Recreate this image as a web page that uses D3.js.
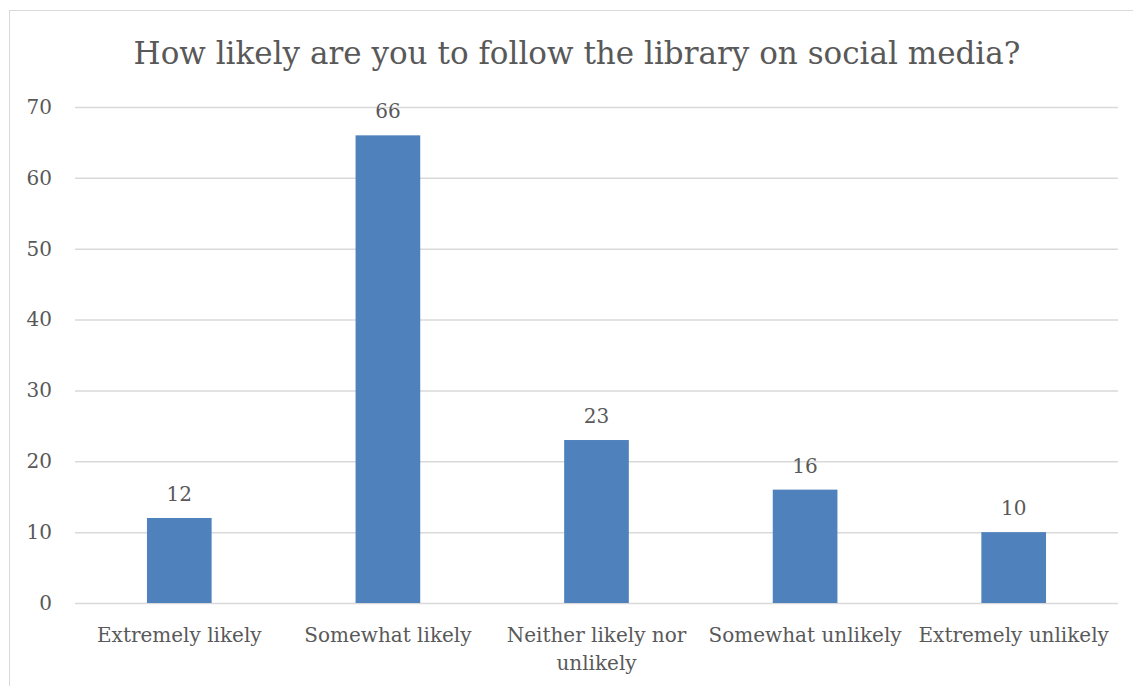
<!DOCTYPE html>
<html>
<head>
<meta charset="utf-8">
<script src="https://cdn.jsdelivr.net/npm/d3@7"></script>
<style>
  body { margin: 0; background: #fff; }
  text { font-family: "DejaVu Serif", serif; fill: #595959; }
</style>
</head>
<body>
<div id="chart"></div>
<script>
// data
var categories = ["Extremely likely", "Somewhat likely", "Neither likely nor unlikely", "Somewhat unlikely", "Extremely unlikely"];
var counts = [12, 66, 23, 16, 10];
var yTicks = [0, 10, 20, 30, 40, 50, 60, 70];
var title = "How likely are you to follow the library on social media?";

var width = 1133, height = 686;
var margin = {left: 75, right: 15, top: 107, bottom: 83};

var svg = d3.select("#chart").append("svg")
    .attr("width", width)
    .attr("height", height);

// chart border
svg.append("rect")
    .attr("x", 9.5).attr("y", 10.5)
    .attr("width", 1140).attr("height", 700)
    .attr("fill", "none")
    .attr("stroke", "#d9d9d9");

var x = d3.scaleBand().domain(categories)
    .range([margin.left, width - margin.right])
    .paddingInner(0.69).paddingOuter(0.345);
var y = d3.scaleLinear().domain([0, 70])
    .range([height - margin.bottom, margin.top]);

svg.append("text")
    .attr("x", 577).attr("y", 64)
    .attr("text-anchor", "middle")
    .style("font-size", "31px")
    .text(title);

// gridlines + tick labels
var yAxis = d3.axisLeft(y).tickValues(yTicks)
    .tickSize(-(width - margin.left - margin.right))
    .tickPadding(23);
var gy = svg.append("g")
    .attr("transform", "translate(" + margin.left + ",0)")
    .call(yAxis);
gy.select(".domain").remove();
gy.selectAll("line").attr("stroke", "#d9d9d9").attr("stroke-width", 1.5);
gy.selectAll("text").style("font-size", "20px").attr("fill", "#595959")
    .style("font-family", "DejaVu Serif");

svg.selectAll("rect.bar")
    .data(counts)
    .enter().append("rect")
    .attr("class", "bar")
    .attr("x", function(d, i) { return x(categories[i]); })
    .attr("y", function(d) { return y(d); })
    .attr("width", x.bandwidth())
    .attr("height", function(d) { return y(0) - y(d); })
    .attr("fill", "#4f81bd");

svg.selectAll("text.val")
    .data(counts)
    .enter().append("text")
    .attr("class", "val")
    .attr("x", function(d, i) { return x(categories[i]) + x.bandwidth() / 2; })
    .attr("y", function(d) { return y(d) - 17; })
    .attr("text-anchor", "middle")
    .style("font-size", "20px")
    .text(function(d) { return d; });

// category labels, the long one wrapped onto two lines
var lines = categories.map(function(c) {
    return c === "Neither likely nor unlikely" ? ["Neither likely nor", "unlikely"] : [c];
});
svg.selectAll("text.cat")
    .data(categories)
    .enter().append("text")
    .attr("class", "cat")
    .attr("text-anchor", "middle")
    .style("font-size", "20px")
    .attr("transform", function(d) {
        return "translate(" + (x(d) + x.bandwidth() / 2) + ",642)";
    })
    .each(function(d, i) {
        var t = d3.select(this);
        lines[i].forEach(function(l, j) {
            t.append("tspan").attr("x", 0).attr("dy", j ? 28 : 0).text(l);
        });
    });
</script>
</body>
</html>
